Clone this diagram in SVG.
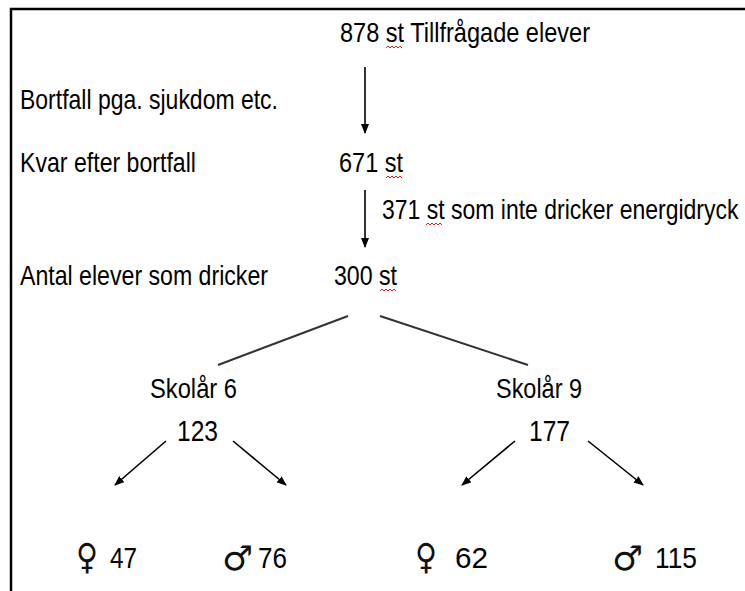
<svg xmlns="http://www.w3.org/2000/svg" xmlns:xlink="http://www.w3.org/1999/xlink" width="745" height="591" viewBox="0 0 745 591">
<style>
  .t { font-family: "Liberation Sans", Arial, sans-serif; font-size: 28px; fill: #000; }
  .s { font-family: "Liberation Sans", Arial, sans-serif; font-size: 23px; fill: #000; }
  .n { font-family: "Liberation Sans", Arial, sans-serif; font-size: 30px; fill: #000; }
  .g { font-family: "DejaVu Sans", "Noto Sans", sans-serif; fill: #111; }
  .c { stroke: #000; stroke-width: 1.6; fill: none; }
  .d { stroke: #333; stroke-width: 2; fill: none; }
  .sq { stroke: #e02020; stroke-width: 1; fill: none; }
</style>
<defs>
  <marker id="ah" markerUnits="userSpaceOnUse" markerWidth="10" markerHeight="8" refX="9" refY="4" orient="auto">
    <path d="M0,0 L10,4 L0,8 z" fill="#000"/>
  </marker>
  <path id="sq" class="sq" d="M0,2 l2,-2 l2,2 l2,-2 l2,2 l2,-2 l2,2 l2,-2 l2,2"/>
</defs>
<rect width="745" height="591" fill="#fff"/>
<path d="M11,591 V9 H745" stroke="#000" stroke-width="2.5" fill="none"/>

<g id="connectors">
  <line class="c" x1="365" y1="67" x2="365" y2="133" marker-end="url(#ah)"/>
  <line class="c" x1="365" y1="190" x2="365" y2="247" marker-end="url(#ah)"/>
  <line class="d" x1="348" y1="316" x2="218" y2="365"/>
  <line class="d" x1="380" y1="316" x2="528" y2="365"/>
  <line class="c" x1="166" y1="441" x2="115" y2="485" marker-end="url(#ah)"/>
  <line class="c" x1="233" y1="441" x2="286" y2="485" marker-end="url(#ah)"/>
  <line class="c" x1="515" y1="441" x2="462" y2="485" marker-end="url(#ah)"/>
  <line class="c" x1="588" y1="441" x2="643" y2="485" marker-end="url(#ah)"/>
</g>

<g id="n878">
  <text class="t" x="340" y="42" textLength="250" lengthAdjust="spacingAndGlyphs">878 st Tillfrågade elever</text>
  <use xlink:href="#sq" x="386" y="46"/>
</g>
<g id="bortfall">
  <text class="t" x="20" y="109" textLength="258" lengthAdjust="spacingAndGlyphs">Bortfall pga. sjukdom etc.</text>
</g>
<g id="kvar">
  <text class="t" x="20" y="172" textLength="176" lengthAdjust="spacingAndGlyphs">Kvar efter bortfall</text>
</g>
<g id="n671">
  <text class="t" x="339" y="172" textLength="64" lengthAdjust="spacingAndGlyphs">671 st</text>
  <use xlink:href="#sq" x="386" y="176"/>
</g>
<g id="n371">
  <text class="s" transform="translate(382,219) scale(1,1.2)" x="0" y="0">371 st som inte dricker energidryck</text>
  <use xlink:href="#sq" x="426" y="223"/>
</g>
<g id="antal">
  <text class="t" x="20" y="285" textLength="248" lengthAdjust="spacingAndGlyphs">Antal elever som dricker</text>
</g>
<g id="n300">
  <text class="t" x="334" y="285" textLength="63" lengthAdjust="spacingAndGlyphs">300 st</text>
  <use xlink:href="#sq" x="380" y="289"/>
</g>
<g id="skolar6">
  <text class="t" x="150" y="398" textLength="87" lengthAdjust="spacingAndGlyphs">Skolår 6</text>
  <text class="n" x="177" y="441" textLength="41" lengthAdjust="spacingAndGlyphs">123</text>
</g>
<g id="skolar9">
  <text class="t" x="496" y="398" textLength="86" lengthAdjust="spacingAndGlyphs">Skolår 9</text>
  <text class="n" x="529" y="441" textLength="41" lengthAdjust="spacingAndGlyphs">177</text>
</g>
<g id="f6">
  <text class="g" x="76" y="569" font-size="36" textLength="22" lengthAdjust="spacingAndGlyphs">♀</text>
  <text class="n" x="110" y="568" textLength="27" lengthAdjust="spacingAndGlyphs">47</text>
</g>
<g id="m6">
  <text class="g" x="222" y="570" font-size="34" textLength="31" lengthAdjust="spacingAndGlyphs">♂</text>
  <text class="n" x="258" y="568" textLength="29" lengthAdjust="spacingAndGlyphs">76</text>
</g>
<g id="f9">
  <text class="g" x="415" y="569" font-size="36" textLength="22" lengthAdjust="spacingAndGlyphs">♀</text>
  <text class="n" x="455" y="568" textLength="33" lengthAdjust="spacingAndGlyphs">62</text>
</g>
<g id="m9">
  <text class="g" x="612" y="570" font-size="34" textLength="31" lengthAdjust="spacingAndGlyphs">♂</text>
  <text class="n" x="655" y="568" textLength="42" lengthAdjust="spacingAndGlyphs">115</text>
</g>
</svg>
